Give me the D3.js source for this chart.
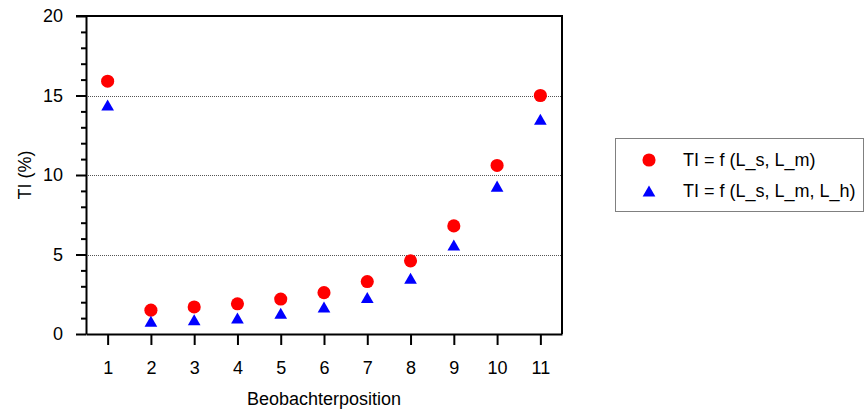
<!DOCTYPE html>
<html>
<head>
<meta charset="utf-8">
<script src="https://cdn.jsdelivr.net/npm/d3@7"></script>
<style>
  body { margin: 0; background: #fff; }
  svg text { font-family: Arial, "Liberation Sans", sans-serif; fill: #000; }
  .axis path, .axis line { stroke: #000; stroke-width: 2; }
</style>
</head>
<body>
<svg id="chart" width="865" height="411"></svg>
<script>
// data
var positions = [1, 2, 3, 4, 5, 6, 7, 8, 9, 10, 11];
var tiSM  = [15.9, 1.5, 1.7, 1.9, 2.2, 2.6, 3.3, 4.6, 6.8, 10.6, 15.0];
var tiSMH = [14.4, 0.8, 0.9, 1.0, 1.3, 1.7, 2.3, 3.5, 5.6, 9.3, 13.5];
var yMajor = [0, 5, 10, 15, 20];
var yGrid = [5, 10, 15];
var legendLabels = ["TI = f (L_s, L_m)", "TI = f (L_s, L_m, L_h)"];

var svg = d3.select("#chart");

var pLeft = 86, pRight = 562, pTop = 16, pBottom = 334;
var fs = "18px";

var x = d3.scaleLinear().domain([0.5, 11.5]).range([pLeft, pRight]),
    y = d3.scaleLinear().domain([0, 20]).range([pBottom, pTop]);

// dotted grid
svg.append("g").selectAll("line")
  .data(yGrid)
  .enter().append("line")
    .attr("x1", pLeft)
    .attr("x2", pRight)
    .attr("y1", function(d) { return Math.round(y(d)) + 0.5; })
    .attr("y2", function(d) { return Math.round(y(d)) + 0.5; })
    .attr("stroke", "#555")
    .attr("stroke-width", 1)
    .attr("stroke-dasharray", "1,1");

// frame top + right
svg.append("path")
  .attr("d", "M" + (pLeft - 10) + "," + pTop + "H" + pRight + "V" + pBottom)
  .attr("fill", "none")
  .attr("stroke", "#000")
  .attr("stroke-width", 2);

// y axis: minor then major
var minor = d3.range(1, 20).filter(function(v) { return v % 5 !== 0; });
svg.append("g")
  .attr("class", "axis")
  .attr("transform", "translate(" + pLeft + ",0)")
  .call(d3.axisLeft(y).tickValues(minor).tickSize(5).tickSizeOuter(0).tickFormat(""))
  .select(".domain").remove();

svg.append("g")
  .attr("class", "axis")
  .attr("transform", "translate(" + pLeft + ",0)")
  .call(d3.axisLeft(y).tickValues(yMajor).tickSize(10).tickSizeOuter(0).tickPadding(13))
  .call(function(g) { g.selectAll("text").style("font-size", fs); });

// x axis
svg.append("g")
  .attr("class", "axis")
  .attr("transform", "translate(0," + pBottom + ")")
  .call(d3.axisBottom(x).tickValues(positions).tickSize(11).tickSizeOuter(0).tickPadding(16))
  .call(function(g) { g.selectAll("text").style("font-size", fs); });

// axis titles
svg.append("text")
  .attr("x", (pLeft + pRight) / 2)
  .attr("y", 405)
  .attr("text-anchor", "middle")
  .style("font-size", fs)
  .text("Beobachterposition");

svg.append("text")
  .attr("transform", "translate(31," + ((pTop + pBottom) / 2) + ") rotate(-90)")
  .attr("text-anchor", "middle")
  .style("font-size", fs)
  .text("TI (%)");

// markers
var circle = d3.symbol().type(d3.symbolCircle).size(135);
var triSize = 70;
var tri = d3.symbol().type(d3.symbolTriangle).size(triSize);
// d3 triangles sit on their centroid; shift so the box centre is on the value
var triOff = Math.sqrt(triSize / (3 * Math.sqrt(3))) / 2;

svg.append("g").selectAll("path")
  .data(positions)
  .enter().append("path")
    .attr("d", circle)
    .attr("fill", "#ff0000")
    .attr("transform", function(d, i) { return "translate(" + x(d) + "," + y(tiSM[i]) + ")"; });

svg.append("g").selectAll("path")
  .data(positions)
  .enter().append("path")
    .attr("d", tri)
    .attr("fill", "#0000ff")
    .attr("transform", function(d, i) { return "translate(" + x(d) + "," + (y(tiSMH[i]) + triOff) + ")"; });

// legend
var lg = svg.append("g");
lg.append("rect")
  .attr("x", 615.5).attr("y", 138.5)
  .attr("width", 248).attr("height", 73)
  .attr("fill", "#fff")
  .attr("stroke", "#808080");

var ly = [160, 191];
lg.append("path").attr("d", circle).attr("fill", "#ff0000")
  .attr("transform", "translate(649," + ly[0] + ")");
lg.append("path").attr("d", tri).attr("fill", "#0000ff")
  .attr("transform", "translate(649," + (ly[1] + triOff) + ")");

lg.selectAll("text")
  .data(legendLabels)
  .enter().append("text")
    .attr("x", 683)
    .attr("y", function(d, i) { return ly[i]; })
    .attr("dy", "0.35em")
    .style("font-size", fs)
    .text(function(d) { return d; });
</script>
</body>
</html>
